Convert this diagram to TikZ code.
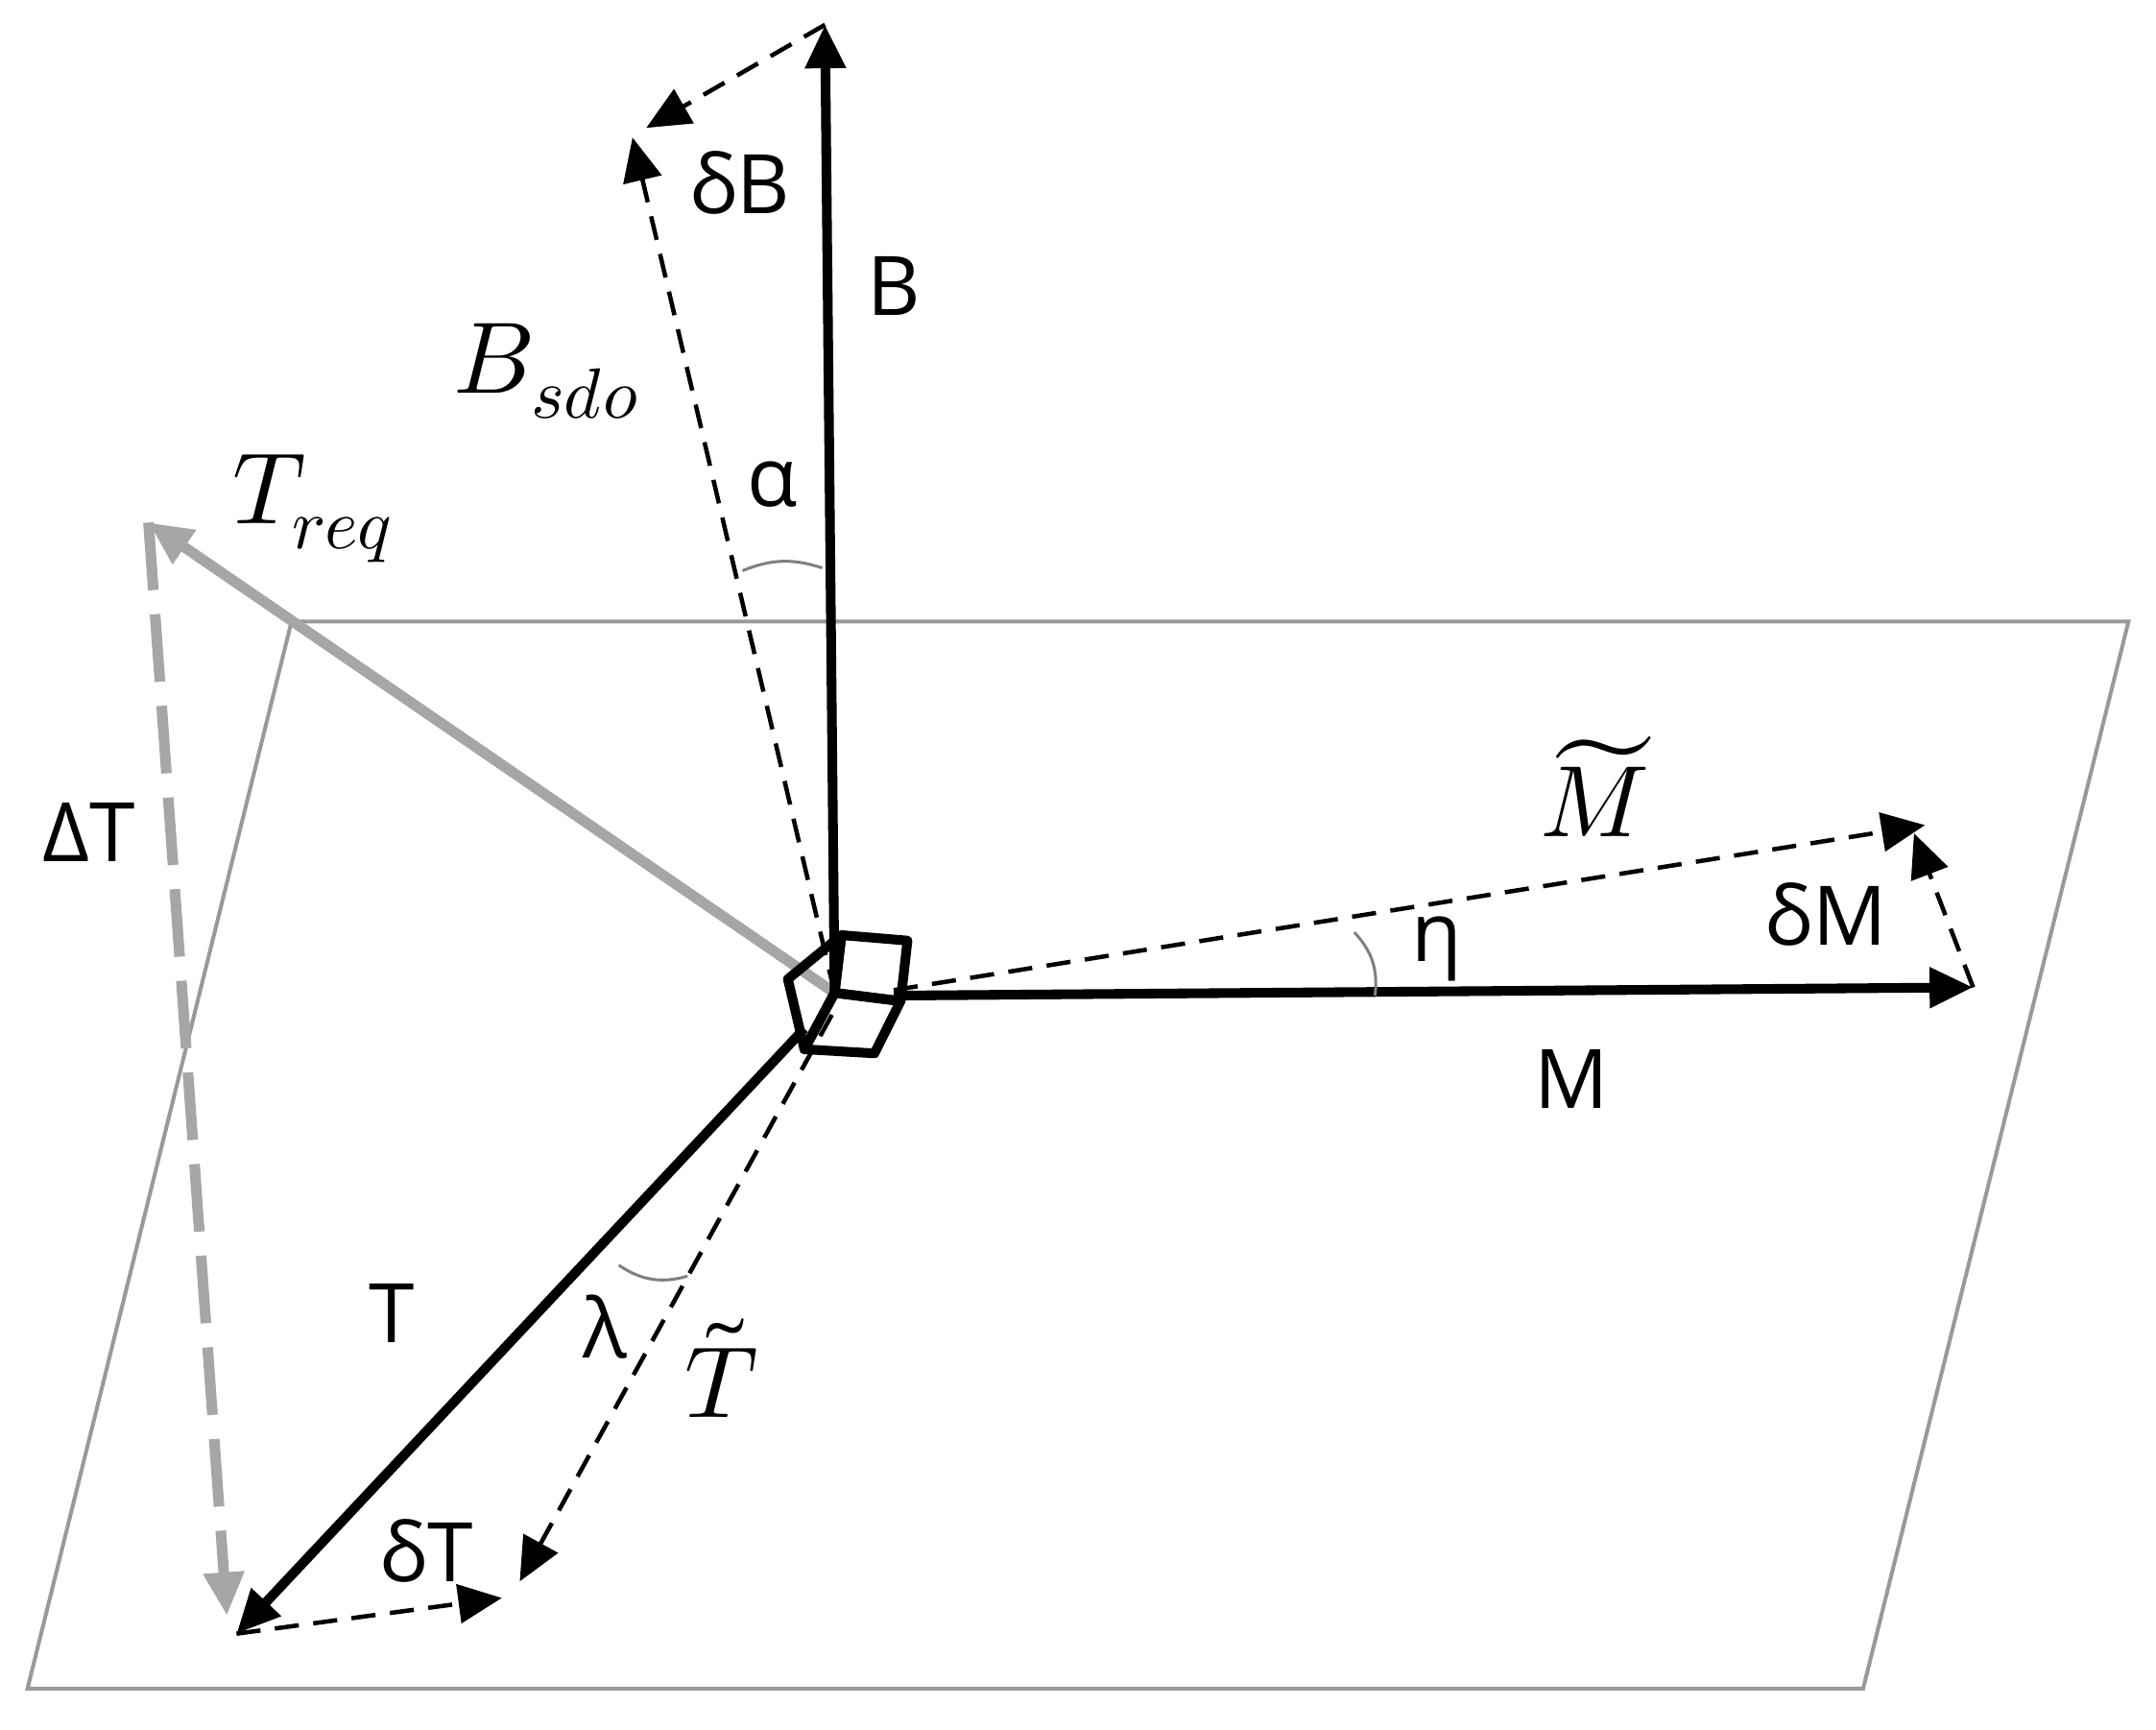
\documentclass[tikz,border=0pt]{standalone}
\usepackage{fontspec}
\setmainfont{Open Sans}
\usepackage{unicode-math}
\setmathfont{Latin Modern Math}
\usetikzlibrary{arrows.meta}
\begin{document}
\begin{tikzpicture}[x=0.01cm,y=-0.01cm,
  vec/.style={line width=2pt,-{Triangle[length=9pt,width=8pt]}},
  dvec/.style={line width=0.9pt,dash pattern=on 5pt off 3pt,-{Triangle[length=9pt,width=8pt]}},
  gvec/.style={line width=2.2pt,gray!70,-{Triangle[length=9pt,width=8pt]}},
  lab/.style={font=\fontsize{17}{20}\selectfont},
  mlab/.style={font=\fontsize{21}{24}\selectfont}]
\useasboundingbox (0,0) rectangle (1568,1258);
\draw[gray!80,line width=0.8pt] (20,1228) -- (1355,1228) -- (1548,452) -- (212,452) -- cycle;
\coordinate (O) at (607,722);
\coordinate (Bt) at (600,18);
\coordinate (Bs) at (460,100);
\coordinate (Mt) at (1435,718);
\coordinate (Ms) at (1400,600);
\coordinate (Tt) at (172,1188);
\coordinate (Ts) at (378,1150);
\coordinate (Tr) at (108,380);
% Treq and DeltaT
\draw[gvec] (O) -- (Tr);
\draw[gvec,dash pattern=on 14pt off 5pt] (Tr) -- (165,1175);
% B
\draw[vec] (O) -- (Bt);
\draw[dvec] (O) -- (Bs);
\draw[dvec] (Bt) -- (470,93);
% M
\draw[vec] (650,724) -- (Mt);
\draw[dvec] (650,720) -- (Ms);
\draw[dvec] (Mt) -- (1392,606);
% T
\draw[vec] (585,748) -- (Tt);
\draw[dvec] (605,738) -- (Ts);
\draw[dvec] (Tt) -- (365,1162);
% cube
\draw[line width=2pt,line join=round] (607,722) -- (612,680) -- (660,684) -- (655,728) -- cycle;
\draw[line width=2pt,line join=round] (607,722) -- (655,728) -- (636,766) -- (585,763) -- cycle;
\draw[line width=2pt,line join=round] (607,722) -- (612,680) -- (573,712) -- (585,763) -- cycle;
% angle arcs
\draw[gray,line width=0.6pt] (540,415) to[bend left=20] (598,413);
\draw[gray,line width=0.6pt] (985,678) to[bend left=25] (1000,724);
\draw[gray,line width=0.6pt] (450,920) to[bend right=25] (500,928);
% labels
\node[lab] (lB) at (538,133) {δB};
\node[lab] (lBB) at (650,208) {B};
\node[mlab] (lBs) at (398,270) {$B_{sdo}$};
\node[lab] (la) at (562,352) {α};
\node[mlab] (lTr) at (228,370) {$T_{req}$};
\node[lab] (lDT) at (65,605) {ΔT};
\node[mlab] (lMt) at (1160,572) {$\widetilde{M}$};
\node[lab] (ldM) at (1328,665) {δM};
\node[lab] (le) at (1045,690) {η};
\node[lab] (lM) at (1143,785) {M};
\node[lab] (lT) at (285,955) {T};
\node[lab] (ll) at (440,965) {λ};
\node[mlab] (lTt) at (525,995) {$\tilde{T}$};
\node[lab] (ldT) at (310,1128) {δT};
\end{tikzpicture}
\end{document}
